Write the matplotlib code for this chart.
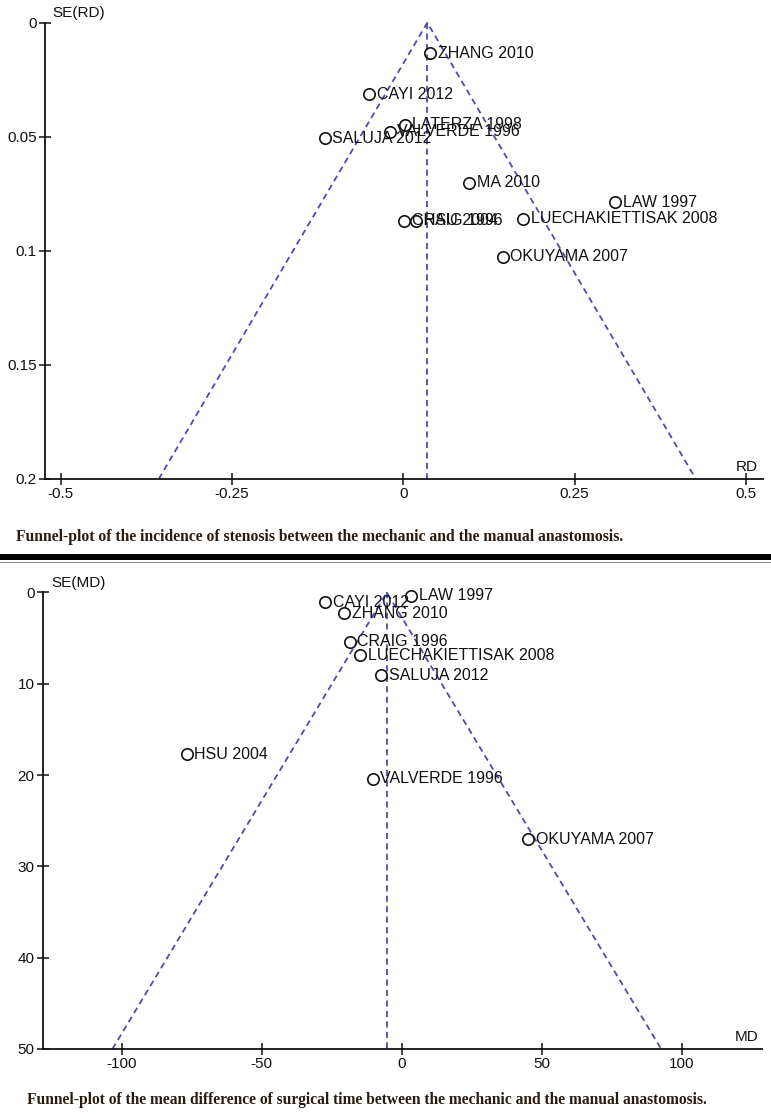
import matplotlib
matplotlib.use('Agg')
import matplotlib.pyplot as plt
from matplotlib.patches import Rectangle

# ---------------- data ----------------
# Top funnel plot: risk difference (stenosis)
rd_studies = ['ZHANG 2010', 'CAYI 2012', 'LATERZA 1998', 'VALVERDE 1996', 'SALUJA 2012',
              'MA 2010', 'LAW 1997', 'LUECHAKIETTISAK 2008', 'CRAIG 1996', 'HSU 2004',
              'OKUYAMA 2007']
rd_values = [0.039, -0.050, 0.002, -0.020, -0.115, 0.096, 0.309, 0.175, 0.001, 0.019, 0.145]
rd_se = [0.0134, 0.0314, 0.0448, 0.0477, 0.0506, 0.0701, 0.0787, 0.0860, 0.0869, 0.0869, 0.1025]
rd_pooled = 0.035
rd_se_max = 0.2
rd_xticks = [-0.5, -0.25, 0, 0.25, 0.5]
rd_xticklabels = ['-0.5', '-0.25', '0', '0.25', '0.5']
rd_yticks = [0, 0.05, 0.1, 0.15, 0.2]
rd_yticklabels = ['0', '0.05', '0.1', '0.15', '0.2']

# Bottom funnel plot: mean difference (surgical time)
md_studies = ['CAYI 2012', 'LAW 1997', 'ZHANG 2010', 'CRAIG 1996', 'LUECHAKIETTISAK 2008',
              'SALUJA 2012', 'HSU 2004', 'VALVERDE 1996', 'OKUYAMA 2007']
md_values = [-27.4, 3.3, -20.5, -18.5, -14.9, -7.4, -76.8, -10.4, 45.2]
md_se = [1.07, 0.38, 2.28, 5.39, 6.85, 9.04, 17.7, 20.4, 27.0]
md_pooled = -5.3
md_se_max = 50
md_xticks = [-100, -50, 0, 50, 100]
md_xticklabels = ['-100', '-50', '0', '50', '100']
md_yticks = [0, 10, 20, 30, 40, 50]
md_yticklabels = ['0', '10', '20', '30', '40', '50']

captions = ['Funnel-plot of the incidence of stenosis between the mechanic and the manual anastomosis.',
            'Funnel-plot of the mean difference of surgical time between the mechanic and the manual anastomosis.']

# ---------------- style ----------------
W, H = 771, 1114
plt.rcParams['font.family'] = ['Liberation Sans', 'DejaVu Sans']
DASH = '#4c4cae'

fig = plt.figure(figsize=(W / 100, H / 100), dpi=100)
fig.patch.set_facecolor('white')


def px(x, y):
    return x / W, 1 - y / H


def axes_px(left, top, right, bottom):
    return [left / W, 1 - bottom / H, (right - left) / W, (bottom - top) / H]


def funnel(ax, studies, values, se, pooled, se_max, xlim, xticks, xticklabels, yticks, yticklabels):
    ax.set_xlim(*xlim)
    ax.set_ylim(se_max, 0)
    for s in ['top', 'right']:
        ax.spines[s].set_visible(False)
    for s in ['left', 'bottom']:
        ax.spines[s].set_linewidth(1.3)
        ax.spines[s].set_color('#111111')
    ax.set_xticks(xticks)
    ax.set_xticklabels(xticklabels)
    ax.set_yticks(yticks)
    ax.set_yticklabels(yticklabels)
    ax.tick_params(direction='inout', length=8, width=1.1, labelsize=11, colors='#111111')
    ax.tick_params(axis='x', pad=2)
    ax.tick_params(axis='y', pad=2)
    half = 1.96 * se_max
    ls = (0, (3.4, 2.4))
    ax.plot([pooled - half, pooled, pooled + half], [se_max, 0, se_max],
            color=DASH, lw=1.3, linestyle=ls, clip_on=False)
    ax.plot([pooled, pooled], [0, se_max], color=DASH, lw=1.3, linestyle=ls, clip_on=False)
    ax.plot(values, se, linestyle='none', marker='o', markersize=8.2,
            markerfacecolor='none', markeredgecolor='#111111', markeredgewidth=1.2, clip_on=False)
    for name, x, y in zip(studies, values, se):
        ax.annotate(name, (x, y), xytext=(5.5, 0), textcoords='offset points',
                    ha='left', va='center', fontsize=11.5, color='#111111')


ax1 = fig.add_axes(axes_px(45, 22.7, 763, 479))
funnel(ax1, rd_studies, rd_values, rd_se, rd_pooled, rd_se_max, (-0.523, 0.525),
       rd_xticks, rd_xticklabels, rd_yticks, rd_yticklabels)

ax2 = fig.add_axes(axes_px(43, 592.5, 761.7, 1049))
funnel(ax2, md_studies, md_values, md_se, md_pooled, md_se_max, (-128.1, 128.6),
       md_xticks, md_xticklabels, md_yticks, md_yticklabels)

# axis titles
fig.text(*px(52, 13), 'SE(RD)', ha='left', va='center', fontsize=11, color='#111111')
fig.text(*px(746.7, 467), 'RD', ha='center', va='center', fontsize=11, color='#111111')
fig.text(*px(51.7, 583.3), 'SE(MD)', ha='left', va='center', fontsize=11, color='#111111')
fig.text(*px(747, 1037.3), 'MD', ha='center', va='center', fontsize=11, color='#111111')

# captions, scaled to the reference width
cap_specs = [(16, 537.3, 602), (26.7, 1100, 680)]
cap_texts = []
for (x, y, w), cap in zip(cap_specs, captions):
    t = fig.text(*px(x, y), cap, ha='left', va='center', fontsize=8,
                 family='Liberation Serif', fontweight='bold', color='#2a1a10')
    cap_texts.append((t, w))
fig.canvas.draw()
r = fig.canvas.get_renderer()
for t, w in cap_texts:
    cur = t.get_window_extent(r).width
    t.set_fontsize(8 * w / cur)

# black separator bar
fig.patches.append(Rectangle(px(0, 560), 1, 6.5 / H, transform=fig.transFigure,
                             facecolor='black', edgecolor='none'))
fig.patches.append(Rectangle(px(0, 563), 1, 1.2 / H, transform=fig.transFigure,
                             facecolor='#888888', edgecolor='none'))

fig.savefig('out.png', dpi=100, facecolor='white')
